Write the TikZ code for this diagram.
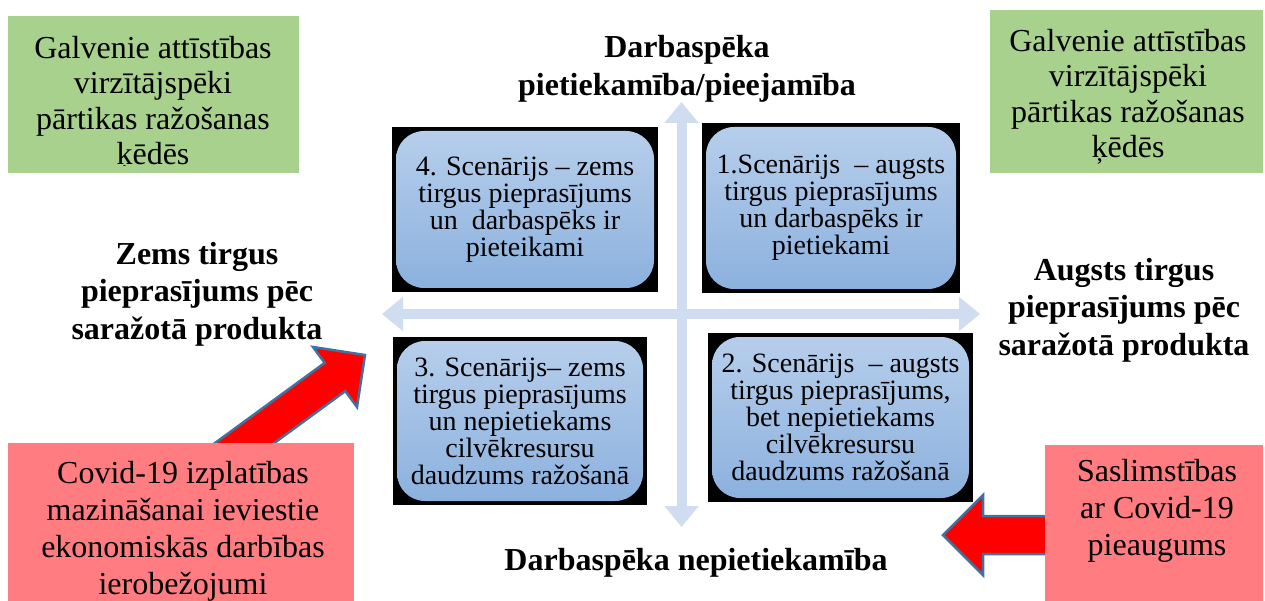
\documentclass[tikz,border=0pt]{standalone}
\usepackage{fontspec}
\setmainfont{Liberation Serif}
\usepackage{xcolor}
\usetikzlibrary{arrows.meta}

\definecolor{drvgreen}{HTML}{A9D18E}
\definecolor{covred}{HTML}{FF7C80}
\definecolor{axisblue}{HTML}{D0DCEF}
\definecolor{scentop}{HTML}{B6CEEB}
\definecolor{scenbot}{HTML}{8CB1DE}
\definecolor{arrowrim}{HTML}{41719C}

\tikzset{
  plainbox/.style={inner sep=0pt, outer sep=0pt},
  blackbox/.style={plainbox, fill=black},
  scenbox/.style={plainbox, rounded corners=28pt, top color=scentop, bottom color=scenbot,
                  align=center, font=\fontsize{28}{27}\selectfont},
  bigtext/.style={align=center, inner sep=0pt, font=\fontsize{32}{35.5}\selectfont},
  redtext/.style={align=center, inner sep=0pt, font=\fontsize{32}{37}\selectfont},
  axislabel/.style={align=center, inner sep=0pt, font=\bfseries\fontsize{32}{37.5}\selectfont},
  axisarrow/.style={draw=axisblue, line width=10pt,
                    {Triangle[length=21pt,width=33pt]}-{Triangle[length=21pt,width=33pt]}},
  blockarrow/.style={fill=red, draw=arrowrim, line width=2.5pt, line join=miter}
}

\begin{document}
\begin{tikzpicture}[x=1pt, y=-1pt]
  \useasboundingbox (0,0) rectangle (1265,601);

  % the two axes of the scenario matrix
  \coordinate (axL) at (382,314);
  \coordinate (axR) at (980,314);
  \coordinate (axT) at (681.5,102);
  \coordinate (axB) at (681.5,527);
  \draw[axisarrow] (axL) -- (axR);
  \draw[axisarrow] (axT) -- (axB);

  % scenario boxes (black frame behind a rounded box)
  \node[blackbox, minimum width=266pt, minimum height=165pt] (sc4k) at (525,209.5) {};
  \node[scenbox, minimum width=258pt, minimum height=157pt] (sc4) at (sc4k)
    {4. Scenārijs – zems\\tirgus pieprasījums\\un~ darbaspēks ir\\pieteikami};
  \node[blackbox, minimum width=258pt, minimum height=170pt] (sc1k) at (831,208) {};
  \node[scenbox, minimum width=250pt, minimum height=162pt] (sc1) at (sc1k)
    {1.Scenārijs~ – augsts\\tirgus pieprasījums\\un darbaspēks ir\\pietiekami};
  \node[blackbox, minimum width=254pt, minimum height=168pt] (sc3k) at (520,421) {};
  \node[scenbox, minimum width=246pt, minimum height=160pt] (sc3) at (sc3k)
    {3. Scenārijs– zems\\tirgus pieprasījums\\un nepietiekams\\cilvēkresursu\\daudzums ražošanā};
  \node[blackbox, minimum width=265pt, minimum height=169pt] (sc2k) at (840.5,417.5) {};
  \node[scenbox, minimum width=257pt, minimum height=161pt] (sc2) at (sc2k)
    {2. Scenārijs~ – augsts\\tirgus pieprasījums,\\bet nepietiekams\\cilvēkresursu\\daudzums ražošanā};

  % axis labels
  \node[axislabel] (lblTop) at (687,69) {Darbaspēka\\pietiekamība/pieejamība};
  \node[axislabel] (lblBot) at (696,563) {Darbaspēka nepietiekamība};
  \node[axislabel] (lblLeft) at (197,294) {Zems tirgus\\pieprasījums pēc\\saražotā produkta};
  \node[axislabel] (lblRight) at (1124,310) {Augsts tirgus\\pieprasījums pēc\\saražotā produkta};

  % green boxes: main drivers
  \node[plainbox, fill=drvgreen, minimum width=291pt, minimum height=157pt] (drvL) at (153.5,94.5) {};
  \begin{scope}
    \clip (8,16) rectangle (299,166);
    \node[bigtext] (drvLtxt) at (153,104) {Galvenie attīstības\\virzītājspēki\\pārtikas ražošanas\\ķēdēs};
  \end{scope}
  \node[plainbox, fill=drvgreen, minimum width=273pt, minimum height=163pt] (drvR) at (1126.5,91.5) {};
  \node[bigtext] (drvRtxt) at (1128,97) {Galvenie attīstības\\virzītājspēki\\pārtikas ražošanas\\ķēdēs};

  % red block arrows
  \filldraw[blockarrow] (365,355) -- (357,407) -- (345.3,391.1) -- (204.3,494.1)
    -- (183.7,465.9) -- (324.7,362.9) -- (313,347) -- cycle;
  \filldraw[blockarrow] (943,535) -- (983,495) -- (983,516) -- (1052,516)
    -- (1052,554) -- (983,554) -- (983,575) -- cycle;

  % red boxes: Covid-19 factors
  \node[plainbox, fill=covred, minimum width=346pt, minimum height=172pt] (covL) at (181,529) {};
  \node[redtext] (covLtxt) at (183,531) {Covid-19 izplatības\\mazināšanai ieviestie\\ekonomiskās darbības\\ierobežojumi};
  \node[plainbox, fill=covred, minimum width=218pt, minimum height=170pt] (covR) at (1154,530) {};
  \node[redtext] (covRtxt) at (1157,511) {Saslimstības\\ar Covid-19\\pieaugums};
\end{tikzpicture}
\end{document}
